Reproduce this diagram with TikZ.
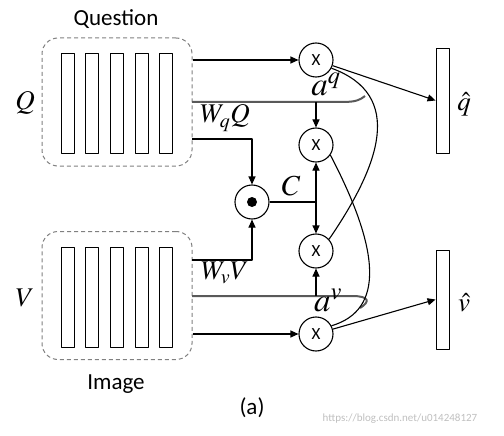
\documentclass[tikz,border=0pt]{standalone}
\usepackage{mathptmx}
\usepackage{fontspec}
\setmainfont{Carlito}
\usetikzlibrary{arrows.meta}
\newcommand{\fsz}[1]{\fontsize{#1}{#1}\selectfont}
\begin{document}
\begin{tikzpicture}[x=1pt, y=-1pt, >={Triangle[length=8pt,width=7pt]}, line join=round,
    bar/.style={draw, line width=0.9pt, minimum width=13pt, minimum height=100pt, inner sep=0pt},
    mul/.style={circle, draw, line width=1.1pt, minimum size=34pt, inner sep=0pt, font=\fsz{17}},
    grp/.style={draw=gray, line width=1pt, dash pattern=on 4pt off 3pt, rounded corners=16pt,
      minimum width=150pt, minimum height=128pt, inner sep=0pt},
    gline/.style={draw=gray!70!black, line width=2pt},
    lbl/.style={font=\fsz{23}},
    sym/.style={font=\fsz{27}, inner sep=1pt}]
  \useasboundingbox (0,0) rectangle (504,436);

  % Question / Image groups
  \node[grp] (qbox) at (117,102) {};
  \node[grp] (vbox) at (117,295.5) {};
  \foreach \x [count=\i] in {67.5,92,117,142,166} {
    \node[bar] (q\i) at (\x,103.5) {};
    \node[bar] (v\i) at (\x,297) {};
  }
  \node[lbl] (tq) at (116,19) {Question};
  \node[lbl] (tv) at (116,384) {Image};
  \node[sym] (lq) at (25,103) {$Q$};
  \node[sym] (lv) at (25,298) {$V$};

  % multiplications
  \node[mul] (x1) at (316,60) {X};
  \node[mul] (x2) at (316,145) {X};
  \node[mul] (x3) at (316,251) {X};
  \node[mul] (x4) at (316,334) {X};
  \node[mul] (dot) at (252,202) {};
  \fill (dot) circle (5pt);

  % outputs
  \node[bar, minimum height=105pt] (qh) at (442.5,100.5) {};
  \node[bar, minimum height=99pt] (vh) at (442.5,299.5) {};
  \node[sym] (lqh) at (464,104) {$\hat{q}$};
  \node[sym] (lvh) at (464,303) {$\hat{v}$};

  % junctions
  \coordinate (wq) at (192,139);
  \coordinate (wv) at (192,260);
  \coordinate (c) at (316,202);
  \coordinate (aq0) at (192,102);
  \coordinate (aq1) at (316,102);
  \coordinate (av0) at (192,296);
  \coordinate (av1) at (316,296);

  \draw[gline] (aq0) -- (aq1) -- (342,102) .. controls (356,102) and (360,100) .. (365,96);
  \draw[gline] (av0) -- (av1) -- (352,296) .. controls (370,296) and (370,302) .. (360,308);

  \begin{scope}[line width=1.1pt]
    \draw[->] (qbox.east |- x1) -- (x1);
    \draw[->] (vbox.east |- x4) -- (x4);
    \draw[->] (wq) -| (dot);
    \draw[->] (wv) -| (dot);
    \draw (dot) -- (c);
    \draw[->] (c) -- (x2);
    \draw[->] (c) -- (x3);
    \draw[->] (aq1) -- (x2);
    \draw[->] (av1) -- (x3);
    \draw[->] (x1) -- (qh.west);
    \draw[->] (x4) -- (vh.west);
    \draw (x1.-28) .. controls (405,95) and (380,165) .. (x3.42);
    \draw (x2.-35) .. controls (380,250) and (385,310) .. (x4.28);
  \end{scope}

  \node[sym] (lwq) at (225,118) {$W_qQ$};
  \node[sym] (lwv) at (225,273) {$W_vV$};
  \node[sym, font=\fsz{29}] (lc) at (291,186) {$C$};
  \node[sym, font=\fsz{33}] (laq) at (326,84) {$a^q$};
  \node[sym, font=\fsz{33}] (lav) at (328,300) {$a^v$};
  \node[lbl] (cap) at (252,408) {(a)};
  \node[font=\fsz{11}, text=gray!50] (wm) at (400,419) {https://blog.csdn.net/u014248127};
\end{tikzpicture}
\end{document}
